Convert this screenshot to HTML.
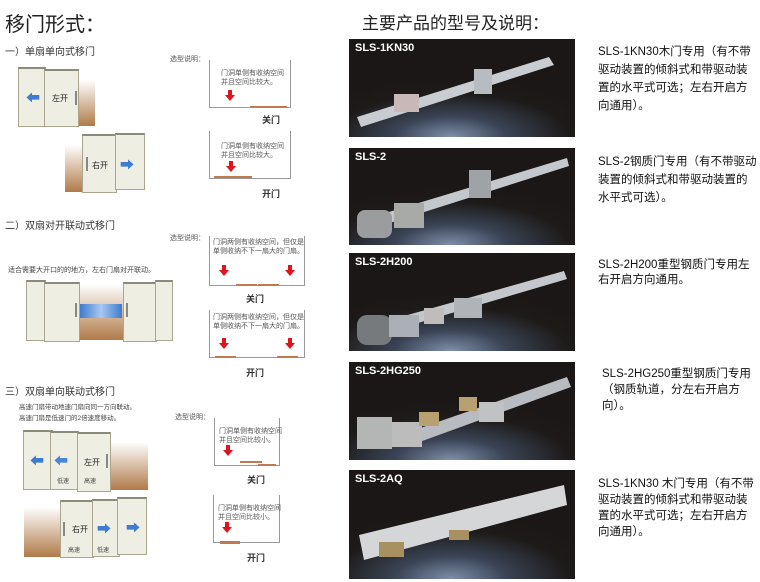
<!DOCTYPE html>
<html><head><meta charset="utf-8">
<style>
*{margin:0;padding:0;box-sizing:border-box}
body{width:760px;height:582px;background:#fff;position:relative;overflow:hidden;font-family:"Liberation Sans","Noto Sans CJK SC",sans-serif;color:#222}
.a{position:absolute;white-space:nowrap}
.t{font-size:7px;color:#555;line-height:9px}
.lab{font-size:9px;font-weight:bold;color:#333}
.box{position:absolute;border:1px solid #999;border-top:none}
.br{position:absolute;height:2px;background:#c07a50}
.ra{position:absolute;width:0;height:0;border-left:5px solid transparent;border-right:5px solid transparent;border-top:6px solid #e0141a}
.ra:before{content:"";position:absolute;left:-2px;top:-11px;width:4px;height:5px;background:#e0141a}
.door{position:absolute;background:#efeee2;border:1px solid #a9a58e;border-top:2px solid #8c8a7a}
.wall{position:absolute;background:linear-gradient(#fff,#b07a48)}
.hd{position:absolute;width:2px;height:14px;background:#888}
.bl{position:absolute;font-size:14px;color:#3d7cd0;font-weight:bold;line-height:12px}
.sm{position:absolute;font-size:6px;color:#444}
.pn{position:absolute;left:349px;width:226px;background:radial-gradient(ellipse 70% 60% at 45% 100%,#7f8fa8 0%,#3a4456 35%,#1d1a18 75%,#1a1716 100%)}
.pn b{position:absolute;left:6px;top:3px;color:#fff;font:bold 11px "Liberation Sans",sans-serif}
.ds{position:absolute;left:598px;font-size:11.5px;line-height:18px;color:#111;white-space:nowrap}
</style></head><body>
<div class="a" style="left:5px;top:8px;font-size:20px;color:#222">移门形式：</div>
<div class="a" style="left:5px;top:43px;font-size:10px;color:#333">一）单扇单向式移门</div>
<div class="a" style="left:5px;top:217px;font-size:10px;color:#333">二）双扇对开联动式移门</div>
<div class="a" style="left:5px;top:383px;font-size:10px;color:#333">三）双扇单向联动式移门</div>

<!-- section 1 doors -->
<div class="wall" style="left:79px;top:80px;width:16px;height:46px"></div>
<div class="door" style="left:18px;top:67px;width:28px;height:60px"></div>
<div class="door" style="left:44px;top:69px;width:35px;height:58px"></div>
<div class="bl" style="left:26px;top:92px">⬅</div>
<div class="a" style="left:52px;top:93px;font-size:8px">左开</div>
<div class="hd" style="left:75px;top:91px"></div>
<div class="wall" style="left:65px;top:145px;width:20px;height:47px"></div>
<div class="door" style="left:82px;top:134px;width:35px;height:59px"></div>
<div class="door" style="left:115px;top:133px;width:30px;height:57px"></div>
<div class="hd" style="left:86px;top:157px"></div>
<div class="a" style="left:92px;top:160px;font-size:8px">右开</div>
<div class="bl" style="left:120px;top:159px">➡</div>

<div class="a t" style="left:170px;top:55px">选型说明：</div>
<div class="box" style="left:209px;top:60px;width:82px;height:48px"></div>
<div class="a t" style="left:221px;top:69px">门洞单侧有收纳空间<br>并且空间比较大。</div>
<div class="ra" style="left:225px;top:95px"></div>
<div class="br" style="left:250px;top:106px;width:37px"></div>
<div class="a lab" style="left:262px;top:113px">关门</div>
<div class="box" style="left:209px;top:131px;width:82px;height:48px"></div>
<div class="a t" style="left:221px;top:142px">门洞单侧有收纳空间<br>并且空间比较大。</div>
<div class="ra" style="left:226px;top:166px"></div>
<div class="br" style="left:214px;top:176px;width:38px"></div>
<div class="a lab" style="left:262px;top:187px">开门</div>

<!-- section 2 -->
<div class="a t" style="left:170px;top:234px">选型说明：</div>
<div class="a" style="left:8px;top:265px;font-size:7px;color:#444">适合需要大开口的的地方，左右门扇对开联动。</div>
<div class="box" style="left:209px;top:236px;width:96px;height:50px"></div>
<div class="a t" style="left:213px;top:238px">门洞两侧有收纳空间，但仅是<br>单侧收纳不下一扇大的门扇。</div>
<div class="ra" style="left:219px;top:270px"></div><div class="ra" style="left:285px;top:270px"></div>
<div class="br" style="left:236px;top:284px;width:21px"></div><div class="br" style="left:258px;top:284px;width:21px"></div>
<div class="a lab" style="left:246px;top:292px">关门</div>
<div class="wall" style="left:79px;top:284px;width:44px;height:56px"></div>
<div class="door" style="left:26px;top:280px;width:20px;height:61px"></div>
<div class="door" style="left:44px;top:282px;width:36px;height:60px"></div>
<div class="door" style="left:123px;top:282px;width:34px;height:60px"></div>
<div class="door" style="left:155px;top:280px;width:18px;height:61px"></div>
<div class="hd" style="left:75px;top:303px"></div><div class="hd" style="left:126px;top:303px"></div>
<div class="a" style="left:80px;top:304px;width:42px;height:14px;background:linear-gradient(90deg,#3d7cd0,#a8c8f0,#3d7cd0)"></div>
<div class="box" style="left:209px;top:310px;width:96px;height:48px"></div>
<div class="a t" style="left:213px;top:313px">门洞两侧有收纳空间，但仅是<br>单侧收纳不下一扇大的门扇。</div>
<div class="ra" style="left:219px;top:343px"></div><div class="ra" style="left:285px;top:343px"></div>
<div class="br" style="left:215px;top:356px;width:21px"></div><div class="br" style="left:277px;top:356px;width:21px"></div>
<div class="a lab" style="left:246px;top:366px">开门</div>

<!-- section 3 -->
<div class="a" style="left:19px;top:402px;font-size:6.5px;color:#444;line-height:11px">高速门扇带动地速门扇向同一方向联动。<br>高速门扇是低速门的2倍速度移动。</div>
<div class="a t" style="left:175px;top:413px">选型说明：</div>
<div class="box" style="left:214px;top:418px;width:66px;height:48px"></div>
<div class="a t" style="left:219px;top:427px">门洞单侧有收纳空间<br>并且空间比较小。</div>
<div class="ra" style="left:223px;top:450px"></div>
<div class="br" style="left:240px;top:461px;width:22px"></div><div class="br" style="left:258px;top:464px;width:18px"></div>
<div class="a lab" style="left:247px;top:473px">关门</div>
<div class="box" style="left:213px;top:495px;width:67px;height:48px"></div>
<div class="a t" style="left:218px;top:504px">门洞单侧有收纳空间<br>并且空间比较小。</div>
<div class="ra" style="left:222px;top:527px"></div>
<div class="br" style="left:220px;top:541px;width:20px;height:3px"></div>
<div class="a lab" style="left:247px;top:551px">开门</div>

<div class="wall" style="left:110px;top:442px;width:38px;height:48px"></div>
<div class="door" style="left:23px;top:430px;width:30px;height:60px"></div>
<div class="door" style="left:50px;top:431px;width:29px;height:59px"></div>
<div class="door" style="left:77px;top:432px;width:34px;height:60px"></div>
<div class="bl" style="left:30px;top:455px">⬅</div><div class="bl" style="left:54px;top:455px;color:#4a86d6">⬅</div>
<div class="a" style="left:84px;top:457px;font-size:8px">左开</div><div class="hd" style="left:106px;top:454px"></div>
<div class="sm" style="left:57px;top:476px">低速</div><div class="sm" style="left:84px;top:476px">高速</div>
<div class="wall" style="left:24px;top:507px;width:38px;height:50px"></div>
<div class="door" style="left:60px;top:500px;width:34px;height:58px"></div>
<div class="door" style="left:92px;top:499px;width:28px;height:58px"></div>
<div class="door" style="left:117px;top:497px;width:30px;height:58px"></div>
<div class="hd" style="left:63px;top:522px"></div>
<div class="a" style="left:72px;top:524px;font-size:8px">右开</div>
<div class="bl" style="left:97px;top:523px">➡</div><div class="bl" style="left:126px;top:522px">➡</div>
<div class="sm" style="left:68px;top:545px">高速</div><div class="sm" style="left:97px;top:545px">低速</div>

<!-- right -->
<div class="a" style="left:362px;top:9px;font-size:17px;color:#222">主要产品的型号及说明：</div>

<div class="pn" style="top:39px;height:98px"><b>SLS-1KN30</b>
<svg width="226" height="98" style="position:absolute;left:0;top:0"><polygon points="8,78 200,18 205,26 12,88" fill="#c9ccd0"/><rect x="45" y="55" width="25" height="18" fill="#c8b8b8"/><rect x="125" y="30" width="18" height="25" fill="#b8bcc0"/></svg></div>
<div class="pn" style="top:148px;height:97px"><b>SLS-2</b>
<svg width="226" height="97" style="position:absolute;left:0;top:0"><polygon points="20,70 218,10 220,18 25,80" fill="#c4c8cc"/><rect x="8" y="62" width="35" height="28" rx="8" fill="#9a9c9e"/><rect x="45" y="55" width="30" height="25" fill="#a8aaa8"/><rect x="120" y="22" width="22" height="28" fill="#9fa3a6"/></svg></div>
<div class="pn" style="top:253px;height:98px"><b>SLS-2H200</b>
<svg width="226" height="98" style="position:absolute;left:0;top:0"><polygon points="30,70 215,18 218,26 35,80" fill="#c4c8cc"/><rect x="8" y="62" width="35" height="30" rx="10" fill="#777a7c"/><rect x="40" y="62" width="30" height="22" fill="#aab0b6"/><rect x="75" y="55" width="20" height="16" fill="#c0bcbc"/><rect x="105" y="45" width="28" height="20" fill="#b0b4b8"/></svg></div>
<div class="pn" style="top:362px;height:98px"><b>SLS-2HG250</b>
<svg width="226" height="98" style="position:absolute;left:0;top:0"><polygon points="60,70 218,15 222,25 65,82" fill="#b8bcc0"/><rect x="8" y="55" width="35" height="32" fill="#b4b6b6"/><rect x="43" y="60" width="30" height="25" fill="#bcbcbc"/><rect x="70" y="50" width="20" height="14" fill="#b8a070"/><rect x="110" y="35" width="18" height="14" fill="#b8a070"/><rect x="130" y="40" width="25" height="20" fill="#c0c2c4"/></svg></div>
<div class="pn" style="top:470px;height:109px"><b>SLS-2AQ</b>
<svg width="226" height="109" style="position:absolute;left:0;top:0"><polygon points="10,65 215,15 218,35 15,90" fill="#d4d6d8"/><rect x="30" y="72" width="25" height="15" fill="#a89060"/><rect x="100" y="60" width="20" height="10" fill="#a89060"/></svg></div>

<div class="ds" style="top:43px">SLS-1KN30木门专用（有不带<br>驱动装置的倾斜式和带驱动装<br>置的水平式可选；左右开启方<br>向通用）。</div>
<div class="ds" style="top:153px">SLS-2钢质门专用（有不带驱动<br>装置的倾斜式和带驱动装置的<br>水平式可选）。</div>
<div class="ds" style="top:258px;line-height:15px">SLS-2H200重型钢质门专用左<br>右开启方向通用。</div>
<div class="ds" style="top:366px;left:602px;line-height:16px">SLS-2HG250重型钢质门专用<br>（钢质轨道，分左右开启方<br>向）。</div>
<div class="ds" style="top:476px;line-height:16px">SLS-1KN30 木门专用（有不带<br>驱动装置的倾斜式和带驱动装<br>置的水平式可选；左右开启方<br>向通用）。</div>
</body></html>
